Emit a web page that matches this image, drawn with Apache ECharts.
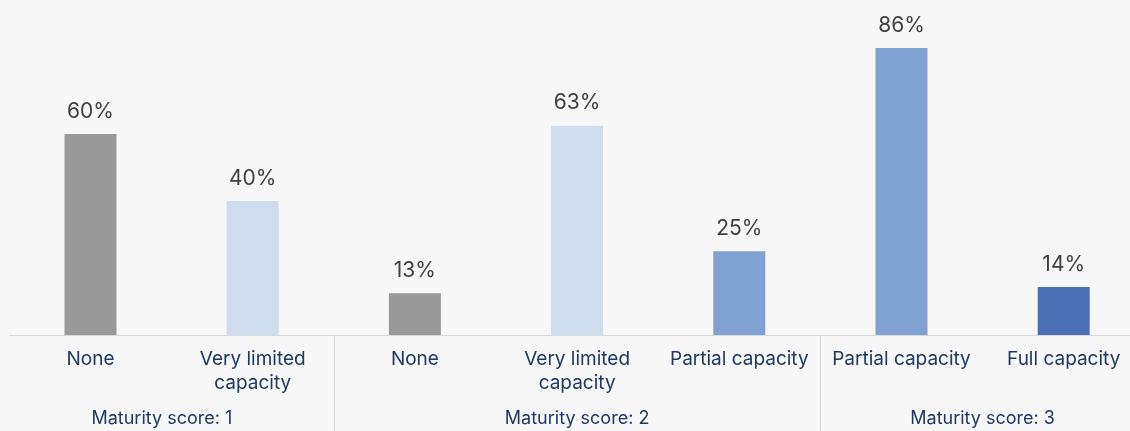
<!DOCTYPE html>
<html>
<head>
<meta charset="utf-8">
<script src="https://cdn.jsdelivr.net/npm/echarts@6/dist/echarts.min.js"></script>
<style>
html,body{margin:0;padding:0;background:#f7f7f7;}
#chart{width:1130px;height:431px;}
</style>
</head>
<body>
<div id="chart"></div>
<script>
// Data
const categories = ['None', 'Very limited\ncapacity', 'None', 'Very limited\ncapacity', 'Partial capacity', 'Partial capacity', 'Full capacity'];
const levels = ['none', 'very', 'none', 'very', 'partial', 'partial', 'full'];
const values = [60, 40, 12.5, 62.5, 25, 85.7, 14.3];
const groupNames = ['Maturity score: 1', 'Maturity score: 2', 'Maturity score: 3'];
const groupSizes = [2, 3, 2];

// Styles
const levelColors = { none: '#999999', very: '#cfdcee', partial: '#80a1d2', full: '#4a70b5' };
const FONT = 'Inter';

// group boundaries and centers, in category units
const bounds = [];
let acc = 0;
groupSizes.forEach((s, i) => { if (i > 0) bounds.push(acc); acc += s; });
const centers = [];
acc = 0;
groupSizes.forEach((s) => { centers.push(acc + s / 2); acc += s; });
centers[0] -= 0.06; // first group label sits slightly left in the reference

const chart = echarts.init(document.getElementById('chart'));
chart.setOption({
  backgroundColor: '#f7f7f7',
  animation: false,
  grid: { left: 9.4, width: 1135.4, top: 0, bottom: 96, containLabel: false, outerBoundsMode: 'none' },
  xAxis: [
    {
      type: 'category',
      data: categories,
      axisLine: { show: true, lineStyle: { color: '#d9d9d9', width: 1 } },
      axisTick: { show: false },
      axisLabel: {
        interval: 0, margin: 12, fontFamily: FONT, fontSize: 19, lineHeight: 24,
        color: '#1f3864'
      }
    },
    {
      type: 'value',
      min: 0, max: categories.length,
      position: 'bottom',
      axisLine: { show: false },
      splitLine: { show: false },
      axisTick: { show: true, length: 100, customValues: bounds, lineStyle: { color: '#d9d9d9', width: 1 } },
      axisLabel: {
        customValues: centers,
        margin: 75, fontFamily: FONT, fontSize: 18, color: '#1f3864',
        formatter: (v) => {
          let best = 0;
          centers.forEach((c, i) => { if (Math.abs(c - v) < Math.abs(centers[best] - v)) best = i; });
          return groupNames[best];
        }
      }
    }
  ],
  yAxis: { type: 'value', min: 0, max: 100, show: false },
  series: [{
    type: 'bar',
    xAxisIndex: 0,
    barWidth: 52,
    data: values.map((v, i) => ({ value: v, itemStyle: { color: levelColors[levels[i]] } })),
    label: {
      show: true, position: 'top', distance: 12,
      formatter: (p) => Math.round(p.value) + '%',
      fontFamily: FONT, fontSize: 21, color: '#404040'
    }
  }]
});
</script>
</body>
</html>
